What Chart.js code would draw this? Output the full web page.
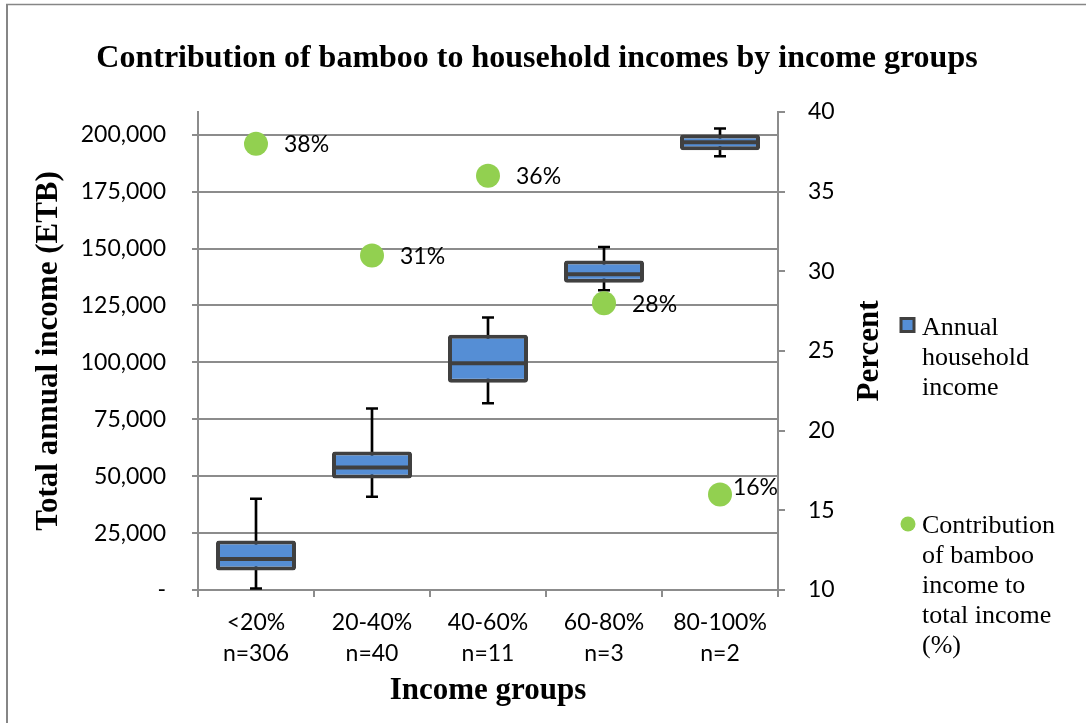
<!DOCTYPE html>
<html>
<head>
<meta charset="utf-8">
<script src="https://cdn.jsdelivr.net/npm/chart.js@4.4.1/dist/chart.umd.min.js"></script>
<style>
  html, body { margin: 0; padding: 0; background: #ffffff; }
  #wrap { position: relative; width: 1086px; height: 723px; }
</style>
</head>
<body>
<div id="wrap"><canvas id="c" width="1086" height="723"></canvas></div>
<script>
// ---- data ----
const categories   = ['<20%', '20-40%', '40-60%', '60-80%', '80-100%'];
const sampleSizes  = ['n=306', 'n=40', 'n=11', 'n=3', 'n=2'];
const incomeMin    = [700, 41000, 82000, 131700, 190600];
const incomeQ1     = [8600, 49000, 91000, 135000, 193200];
const incomeMedian = [13600, 53800, 99600, 138700, 196700];
const incomeQ3     = [21700, 60900, 112100, 144800, 200100];
const incomeMax    = [40100, 79700, 119700, 150700, 202700];
const bambooShare  = [38, 31, 36, 28, 16];
const incomeTicks  = [0, 25000, 50000, 75000, 100000, 125000, 150000, 175000, 200000];
const percentTicks = [10, 15, 20, 25, 30, 35, 40];

const chartTitle = 'Contribution of bamboo to household incomes by income groups';
const yTitle = 'Total annual income (ETB)';
const y1Title = 'Percent';
const xTitle = 'Income groups';
const seriesNames = ['Annual household income', 'Contribution of bamboo income to total income (%)'];

// ---- styles ----
const GRID = '#8c8c8c';
const BOX = '#558ED5';
const EDGE = '#404040';
const DOT = '#92D050';
const TICK_FONT = { family: 'Lato', size: 23, lineHeight: 1.35 };
const SERIF_BOLD = (s) => ({ family: 'Liberation Serif', size: s, weight: 'bold' });

const xLabels = categories.map((c, i) => [c, sampleSizes[i]]);

function wrapText(ctx, text, maxW) {
  const words = text.split(' ');
  const lines = [];
  let cur = '';
  for (const w of words) {
    const t = cur ? cur + ' ' + w : w;
    if (cur && ctx.measureText(t).width > maxW) { lines.push(cur); cur = w; }
    else cur = t;
  }
  if (cur) lines.push(cur);
  return lines;
}

const decor = {
  id: 'decor',
  beforeDraw(chart) {
    const ctx = chart.ctx;
    ctx.save();
    ctx.fillStyle = '#ffffff';
    ctx.fillRect(0, 0, chart.width, chart.height);
    ctx.strokeStyle = '#868686';
    ctx.lineWidth = 1.5;
    ctx.beginPath(); ctx.moveTo(6, 4.5); ctx.lineTo(chart.width, 4.5); ctx.stroke();
    ctx.lineWidth = 2;
    ctx.beginPath(); ctx.moveTo(7, 4); ctx.lineTo(7, chart.height); ctx.stroke();
    ctx.restore();
  },
  afterDatasetsDraw(chart) {
    const ctx = chart.ctx;
    const area = chart.chartArea;
    const meta = chart.getDatasetMeta(5);
    ctx.save();
    ctx.font = '23px Lato';
    ctx.fillStyle = '#000';
    ctx.textAlign = 'left';
    ctx.textBaseline = 'middle';
    meta.data.forEach((pt, i) => {
      const txt = bambooShare[i] + '%';
      const w = ctx.measureText(txt).width;
      let x = pt.x + 28, y = pt.y + 1;
      if (x + w > area.right) { x = area.right - w; y = pt.y - 7; }
      ctx.fillText(txt, x, y);
    });
    ctx.restore();
  },
  afterDraw(chart) {
    const ctx = chart.ctx;
    const area = chart.chartArea;
    ctx.save();
    ctx.translate(878, (area.top + area.bottom) / 2);
    ctx.rotate(-Math.PI / 2);
    ctx.font = 'bold 31px "Liberation Serif"';
    ctx.fillStyle = '#000';
    ctx.textAlign = 'center';
    ctx.textBaseline = 'alphabetic';
    ctx.fillText(y1Title, 0, 0);
    ctx.restore();

    ctx.save();
    ctx.font = '26px "Liberation Serif"';
    ctx.textAlign = 'left';
    ctx.textBaseline = 'alphabetic';
    const tx = 922, lh = 30;
    ctx.fillStyle = BOX;
    ctx.fillRect(901, 318.5, 13, 13);
    ctx.strokeStyle = EDGE; ctx.lineWidth = 3;
    ctx.strokeRect(901, 318.5, 13, 13);
    ctx.fillStyle = '#000';
    wrapText(ctx, seriesNames[0], 145).forEach((l, i) => ctx.fillText(l, tx, 335 + i * lh));
    ctx.fillStyle = DOT;
    ctx.beginPath(); ctx.arc(908, 524, 7.5, 0, Math.PI * 2); ctx.fill();
    ctx.fillStyle = '#000';
    wrapText(ctx, seriesNames[1], 145).forEach((l, i) => ctx.fillText(l, tx, 533 + i * lh));
    ctx.restore();
  }
};

new Chart(document.getElementById('c'), {
  type: 'bar',
  data: {
    labels: xLabels,
    datasets: [
      { // whisker stems
        type: 'bar', label: 'whisker', yAxisID: 'y',
        data: incomeMin.map((v, i) => [v, incomeMax[i]]),
        backgroundColor: '#000', borderWidth: 0, barThickness: 2,
        grouped: false, order: 5
      },
      { // whisker caps low
        type: 'line', label: 'min', yAxisID: 'y', data: incomeMin,
        showLine: false, pointStyle: 'line', pointRadius: 6, pointHoverRadius: 6,
        pointBorderColor: '#000', pointBorderWidth: 2.5, order: 4
      },
      { // whisker caps high
        type: 'line', label: 'max', yAxisID: 'y', data: incomeMax,
        showLine: false, pointStyle: 'line', pointRadius: 6, pointHoverRadius: 6,
        pointBorderColor: '#000', pointBorderWidth: 2.5, order: 4
      },
      { // interquartile box
        type: 'bar', label: seriesNames[0], yAxisID: 'y',
        data: incomeQ1.map((v, i) => [v, incomeQ3[i]]),
        backgroundColor: BOX, borderColor: EDGE, borderWidth: 4,
        borderSkipped: false, borderRadius: 3, inflateAmount: 0,
        barPercentage: 0.69, categoryPercentage: 1, grouped: false, order: 3
      },
      { // median line
        type: 'line', label: 'median', yAxisID: 'y', data: incomeMedian,
        showLine: false, pointStyle: 'line', pointRadius: 39, pointHoverRadius: 39,
        pointBorderColor: EDGE, pointBorderWidth: 4, order: 2
      },
      { // bamboo share
        type: 'line', label: seriesNames[1], yAxisID: 'y1', data: bambooShare,
        showLine: false, pointRadius: 12, pointHoverRadius: 12,
        pointBackgroundColor: DOT, pointBorderWidth: 0, pointBorderColor: DOT, order: 0
      }
    ]
  },
  options: {
    responsive: false,
    animation: false,
    devicePixelRatio: 1,
    events: [],
    layout: { padding: { left: 0, right: 12, top: 0, bottom: 0 } },
    plugins: {
      legend: { display: false },
      tooltip: { enabled: false },
      title: {
        display: true, text: chartTitle, color: '#000',
        font: SERIF_BOLD(32),
        padding: { top: 39.8, bottom: 33.8 }
      }
    },
    scales: {
      x: {
        type: 'category', offset: true,
        grid: { offset: true, drawOnChartArea: false, drawTicks: true, tickLength: 7, color: GRID, lineWidth: 2 },
        border: { color: GRID, width: 2 },
        ticks: { font: TICK_FONT, color: '#000', padding: 10, maxRotation: 0, autoSkip: false },
        title: { display: true, text: xTitle, color: '#000', font: SERIF_BOLD(31), padding: { top: 0, bottom: 13.4 } },
        afterFit(s) { s.height = 133; }
      },
      y: {
        position: 'left', min: 0, max: 210000,
        afterBuildTicks(s) { s.ticks = incomeTicks.map(v => ({ value: v })); },
        ticks: {
          font: TICK_FONT, color: '#000', padding: 26,
          callback: (v) => v === 0 ? '-' : Number(v).toLocaleString('en-US')
        },
        grid: { color: GRID, lineWidth: 2, tickLength: 6 },
        border: { color: GRID, width: 2 },
        title: { display: true, text: yTitle, color: '#000', font: SERIF_BOLD(31), padding: { top: 30.4, bottom: 0 } },
        afterFit(s) { s.width = 198; }
      },
      y1: {
        position: 'right', min: 10, max: 40,
        afterBuildTicks(s) { s.ticks = percentTicks.map(v => ({ value: v })); },
        ticks: { font: TICK_FONT, color: '#000', padding: 23 },
        grid: { drawOnChartArea: false, color: GRID, lineWidth: 2, tickLength: 7 },
        border: { color: GRID, width: 2 },
        afterFit(s) { s.width = 296; }
      }
    }
  },
  plugins: [decor]
});
</script>
</body>
</html>
